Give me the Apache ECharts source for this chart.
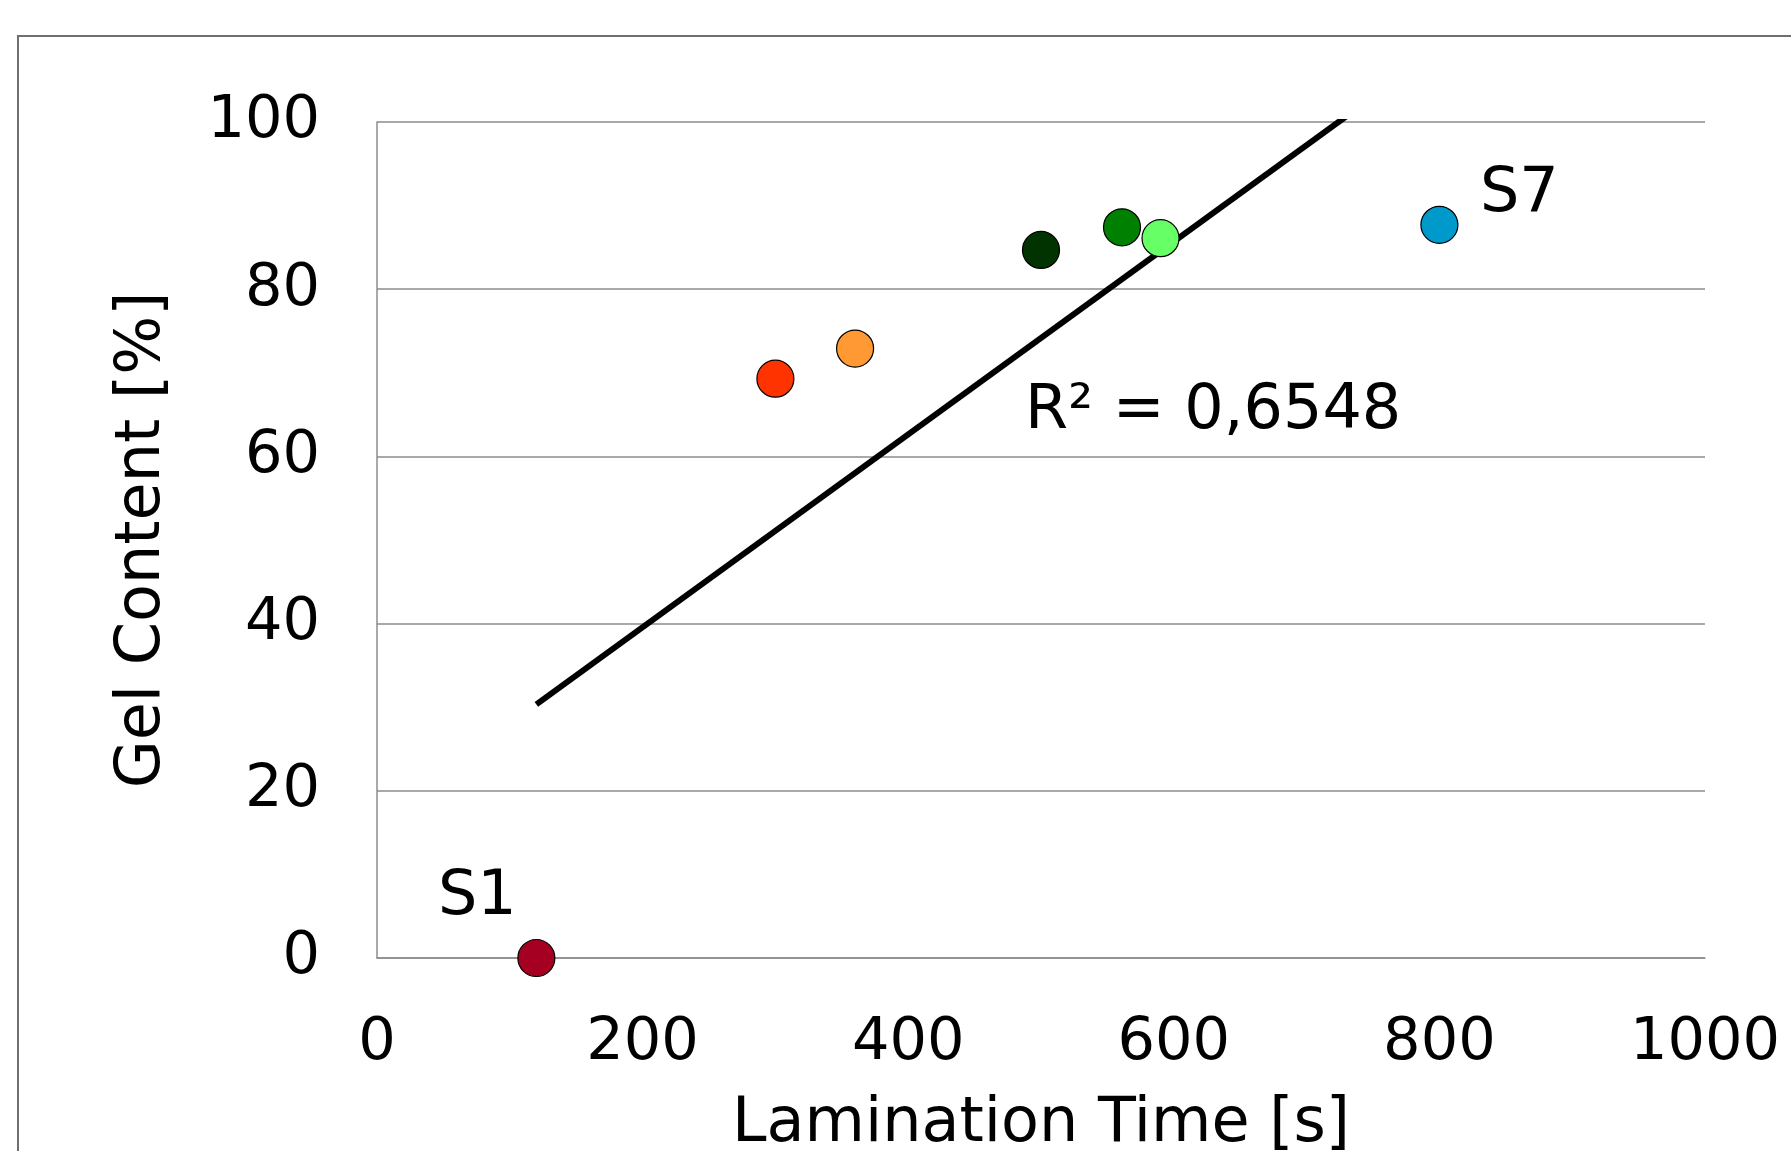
<!DOCTYPE html>
<html>
<head>
<meta charset="utf-8">
<script src="https://cdn.jsdelivr.net/npm/echarts@6/dist/echarts.min.js"></script>
<style>
html,body{margin:0;padding:0;background:#fff;}
#c{width:1791px;height:1151px;}
</style>
</head>
<body>
<div id="c"></div>
<script>
// Data
const sampleNames = ['S1', '', '', '', '', '', 'S7'];
const laminationTime = [120, 300, 360, 500, 561, 590, 800];
const gelContent = [0, 69.3, 72.9, 84.7, 87.4, 86.1, 87.7];
const pointColors = ['#A50021', '#FF3300', '#FF9933', '#003300', '#008000', '#66FF66', '#0099CC'];
const xTicks = [0, 200, 400, 600, 800, 1000];
const yTicks = [0, 20, 40, 60, 80, 100];
const r2Text = 'R² = 0,6548';
const r2Anchor = [488, 65.3];

// Linear regression (trendline) from the data
const n = laminationTime.length;
const mx = laminationTime.reduce((a, b) => a + b, 0) / n;
const my = gelContent.reduce((a, b) => a + b, 0) / n;
let sxy = 0, sxx = 0;
for (let i = 0; i < n; i++) {
  sxy += (laminationTime[i] - mx) * (gelContent[i] - my);
  sxx += (laminationTime[i] - mx) ** 2;
}
const slope = sxy / sxx;
const icpt = my - slope * mx;
const xMin = Math.min(...laminationTime), xMax = Math.max(...laminationTime);
const trend = [[xMin, icpt + slope * xMin], [xMax, icpt + slope * xMax]];

const labelOffsets = {
  'S1': [-59, -60],
  'S7': [80, -30]
};

const FONT = 'DejaVu Sans, Verdana, sans-serif';
const FS_TICK = 59;
const FS_TEXT = 62;

const chart = echarts.init(document.getElementById('c'));
const scatterData = laminationTime.map((x, i) => {
  const item = {
    value: [x, gelContent[i]],
    itemStyle: { color: pointColors[i], borderColor: '#000', borderWidth: 1.2, opacity: 1 }
  };
  if (sampleNames[i]) {
    item.label = {
      show: true,
      formatter: sampleNames[i],
      position: 'inside',
      offset: labelOffsets[sampleNames[i]],
      color: '#000',
      textBorderWidth: 0,
      fontSize: FS_TEXT,
      fontFamily: FONT
    };
  }
  return item;
});

const frameRect = {
  type: 'rect', silent: true, z: 0,
  shape: { x: 18, y: 36, width: 1900, height: 1300 },
  style: { fill: 'none', stroke: '#707070', lineWidth: 2 }
};

chart.setOption({
  animation: false,
  backgroundColor: '#fff',
  grid: { left: 377, top: 122, width: 1328, height: 836, containLabel: false, outerBoundsMode: 'none' },
  xAxis: {
    type: 'value', min: xTicks[0], max: xTicks[xTicks.length - 1], interval: xTicks[1] - xTicks[0],
    name: 'Lamination Time [s]', nameLocation: 'middle', nameGap: 136,
    nameTextStyle: { fontSize: FS_TEXT, fontFamily: FONT, color: '#000' },
    axisLine: { show: true, lineStyle: { color: '#8c8c8c', width: 1.5 } },
    axisTick: { show: false },
    splitLine: { show: false },
    axisLabel: { fontSize: FS_TICK, fontFamily: FONT, color: '#000', margin: 56, formatter: v => String(v) }
  },
  yAxis: {
    type: 'value', min: yTicks[0], max: yTicks[yTicks.length - 1], interval: yTicks[1] - yTicks[0],
    name: 'Gel Content [%]', nameLocation: 'middle', nameGap: 203, nameRotate: 90,
    nameTextStyle: { fontSize: FS_TEXT, fontFamily: FONT, color: '#000' },
    axisLine: { show: true, lineStyle: { color: '#8c8c8c', width: 1.5 } },
    axisTick: { show: false },
    splitLine: { show: true, lineStyle: { color: '#8c8c8c', width: 1.5 } },
    axisLabel: { fontSize: FS_TICK, fontFamily: FONT, color: '#000', margin: 57, formatter: v => String(v) }
  },
  graphic: [frameRect],
  series: [
    {
      type: 'line', data: trend, showSymbol: false, symbol: 'none', clip: true,
      lineStyle: { color: '#000', width: 6 }, z: 2
    },
    {
      type: 'scatter', data: scatterData, symbol: 'circle', symbolSize: 37, z: 3,
      itemStyle: { opacity: 1 }
    }
  ]
});

const p = chart.convertToPixel({ gridIndex: 0 }, r2Anchor);
chart.setOption({
  graphic: [frameRect, {
    type: 'text', x: p[0], y: p[1], z: 5,
    style: { text: r2Text, font: FS_TEXT + 'px ' + FONT, fill: '#000', textAlign: 'left', textVerticalAlign: 'middle' }
  }]
});
</script>
</body>
</html>
